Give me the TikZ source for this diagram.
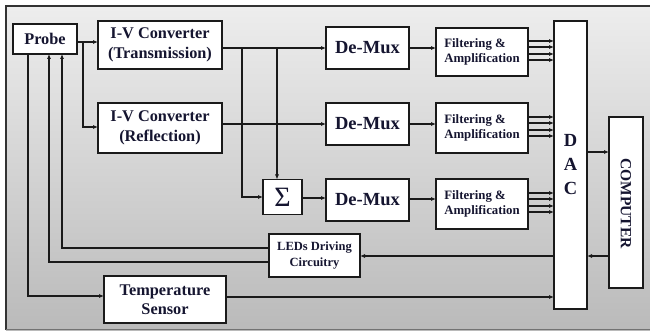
\documentclass[tikz,border=0pt]{standalone}
\usepackage{fontspec}
\setmainfont{Liberation Serif}
\usetikzlibrary{arrows.meta}
\definecolor{inkc}{HTML}{1A1A1A}
\definecolor{txtc}{HTML}{151530}
\begin{document}
\begin{tikzpicture}[x=1pt,y=-1pt,
  box/.style={draw=inkc,line width=1.6pt,fill=white,inner sep=0pt,outer sep=0pt,text=txtc,font=\bfseries},
  con/.style={line width=1.1pt,draw=inkc},
  arr/.style={con,-{Latex[length=5pt,width=4.2pt]}},
  fbig/.style={font=\bfseries\fontsize{16.3}{19.5}\selectfont},
  fdm/.style={font=\bfseries\fontsize{18.5}{20}\selectfont},
  fsm/.style={font=\bfseries\fontsize{12.8}{15.5}\selectfont}]
\useasboundingbox (0,0) rectangle (650,331);
% background panel
\shade[top color=black!7, bottom color=black!27] (6,6) rectangle (652,330);
\draw[line width=1.4pt,draw=black!80] (6,330) -- (6,6) -- (652,6);
\draw[line width=0.8pt,draw=black!55] (6,329.5) -- (652,329.5);

% blocks
\node[box,fbig,minimum width=64pt,minimum height=30pt] (probe) at (45,39) {Probe};
\node[box,fbig,align=center,minimum width=124pt,minimum height=48pt] (ivt) at (160,45) {I-V Converter\\(Transmission)};
\node[box,fbig,align=center,minimum width=124pt,minimum height=50pt] (ivr) at (160,128) {I-V Converter\\(Reflection)};
\node[box,fdm,minimum width=83pt,minimum height=42pt] (dm1) at (367.5,48) {De-Mux};
\node[box,fdm,minimum width=83pt,minimum height=42pt] (dm2) at (367.5,124) {De-Mux};
\node[box,fdm,minimum width=83pt,minimum height=42pt] (dm3) at (367.5,200) {De-Mux};
\node[box,fsm,align=left,minimum width=92pt,minimum height=48pt] (f1) at (482,52) {Filtering \&\\Amplification};
\node[box,fsm,align=left,minimum width=92pt,minimum height=50pt] (f2) at (482,128) {Filtering \&\\Amplification};
\node[box,fsm,align=left,minimum width=92pt,minimum height=50pt] (f3) at (482,204) {Filtering \&\\Amplification};
\node[box,font=\bfseries\fontsize{18.5}{24}\selectfont,align=center,minimum width=33pt,minimum height=288pt] (dac) at (570.5,165) {D\\A\\C};
\node[box,minimum width=34pt,minimum height=171pt] (comp) at (626,202.5) {};
\node[text=txtc,font=\bfseries\fontsize{15.5}{18}\selectfont,rotate=-90,inner sep=0pt] (comptext) at (626,203.5) {COMPUTER};
\node[box,font=\fontsize{28}{28}\selectfont,minimum width=39pt,minimum height=35pt] (sigma) at (282.5,197) {Σ};
\node[box,align=center,font=\bfseries\fontsize{12.5}{16}\selectfont,minimum width=91pt,minimum height=43pt] (led) at (314.5,255.5) {LEDs Driving\\Circuitry};
\node[box,fbig,align=center,minimum width=122pt,minimum height=47pt] (temp) at (165,299.5) {Temperature\\Sensor};

% probe to converters
\draw[arr] (probe.east |- 0,42) -- (ivt.west |- 0,42);
\draw[arr] (probe.east |- 0,42) -| (83,127) -- (ivr.west |- 0,127);
% transmission path
\draw[arr] (ivt.east |- 0,48) -- (dm1.west |- 0,48);
\draw[arr] (242,48) |- (sigma.west |- 0,197);
\draw[arr] (277,48) -- (sigma.north -| 277,0);
% reflection path
\draw[arr] (ivr.east |- 0,124) -- (dm2.west |- 0,124);
% sigma to demux
\draw[arr] (sigma.east |- 0,198) -- (dm3.west |- 0,198);
% demux to filters
\draw[arr] (dm1.east |- 0,48) -- (f1.west |- 0,48);
\draw[arr] (dm2.east |- 0,124) -- (f2.west |- 0,124);
\draw[arr] (dm3.east |- 0,199) -- (f3.west |- 0,199);
% filters to DAC
\foreach \yy in {41,47,54,60} \draw[arr] (f1.east |- 0,\yy) -- (dac.west |- 0,\yy);
\foreach \yy in {117,123,130,136} \draw[arr] (f2.east |- 0,\yy) -- (dac.west |- 0,\yy);
\foreach \yy in {193,199,206,212} \draw[arr] (f3.east |- 0,\yy) -- (dac.west |- 0,\yy);
% DAC / computer
\draw[arr] (dac.east |- 0,152) -- (comp.west |- 0,152);
\draw[arr] (comp.west |- 0,256) -- (dac.east |- 0,256);
\draw[arr] (dac.west |- 0,256) -- (led.east |- 0,256);
% LED driver to probe
\draw[arr] (led.west |- 0,248) -| (probe.south -| 62,0);
\draw[arr] (led.west |- 0,262) -| (probe.south -| 49,0);
% temperature sensor
\draw[arr] (probe.south -| 28,0) |- (temp.west |- 0,296);
\draw[arr] (temp.east |- 0,297) -- (dac.west |- 0,297);
\end{tikzpicture}
\end{document}
